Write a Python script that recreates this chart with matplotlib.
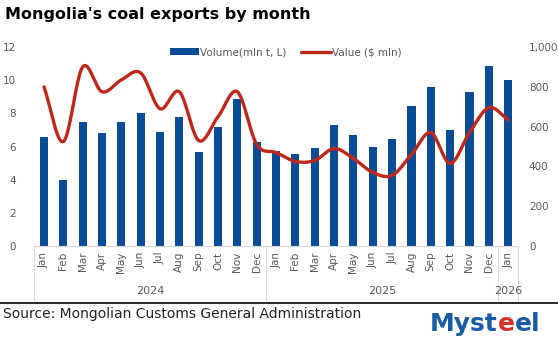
import numpy as np
import matplotlib.pyplot as plt
import matplotlib.transforms as mtransforms

months = ['Jan', 'Feb', 'Mar', 'Apr', 'May', 'Jun', 'Jul', 'Aug', 'Sep', 'Oct', 'Nov', 'Dec',
          'Jan', 'Feb', 'Mar', 'Apr', 'May', 'Jun', 'Jul', 'Aug', 'Sep', 'Oct', 'Nov', 'Dec',
          'Jan']
years = ['2024', '2025', '2026']
year_counts = [12, 12, 1]

# volume, mln t (left axis)
volume = [6.55, 4.0, 7.45, 6.8, 7.45, 8.0, 6.85, 7.8, 5.7, 7.2, 8.85, 6.3,
          5.75, 5.55, 5.9, 7.3, 6.7, 5.95, 6.45, 8.45, 9.6, 7.0, 9.3, 10.85,
          10.0]
# value, $ mln (right axis)
value = [800, 525, 900, 775, 835, 870, 690, 775, 530, 650, 775, 510,
         470, 425, 430, 490, 440, 370, 355, 460, 570, 415, 570, 695,
         635]

BLUE = '#0B4C97'
RED = '#C0271B'
GRAY = '#595959'


def smooth(xs, ys, n=24):
    # catmull-rom style smoothing, like excel's smoothed line
    xs = np.asarray(xs, float)
    ys = np.asarray(ys, float)
    px = np.concatenate([[2 * xs[0] - xs[1]], xs, [2 * xs[-1] - xs[-2]]])
    py = np.concatenate([[2 * ys[0] - ys[1]], ys, [2 * ys[-1] - ys[-2]]])
    ox, oy = [], []
    for i in range(1, len(px) - 2):
        t = np.linspace(0, 1, n, endpoint=False)
        for arr, out in ((px, ox), (py, oy)):
            p0, p1, p2, p3 = arr[i - 1], arr[i], arr[i + 1], arr[i + 2]
            out.extend(0.5 * (2 * p1 + (-p0 + p2) * t
                              + (2 * p0 - 5 * p1 + 4 * p2 - p3) * t ** 2
                              + (-p0 + 3 * p1 - 3 * p2 + p3) * t ** 3))
    ox.append(xs[-1])
    oy.append(ys[-1])
    return np.array(ox), np.array(oy)


fig = plt.figure(figsize=(5.58, 3.46), dpi=100)
ax = fig.add_axes([0.0615, 0.289, 0.8665, 0.575])
ax2 = ax.twinx()

x = np.arange(len(months))
ax.bar(x, volume, width=0.42, color=BLUE, label='Volume(mln t, L)', zorder=2)
sx, sy = smooth(x, value)
ax2.plot(sx, sy, color=RED, lw=2.4, label='Value ($ mln)', solid_capstyle='round')

ax.set_xlim(-0.5, len(months) - 0.5)
ax.set_ylim(0, 12)
ax2.set_ylim(0, 1000)
ax.set_yticks(range(0, 13, 2))
ax2.set_yticks(range(0, 1001, 200))
ax2.set_yticklabels([f'{v:,}' for v in range(0, 1001, 200)])
ax.set_xticks(x)
ax.set_xticklabels(months, rotation=90)

for a in (ax, ax2):
    for s in a.spines.values():
        s.set_visible(False)
    a.tick_params(length=0, labelsize=7.5, colors=GRAY)
ax.spines['bottom'].set_visible(True)
ax.spines['bottom'].set_color('#D9D9D9')
ax.tick_params(axis='y', pad=13)
ax2.tick_params(axis='y', pad=8)
ax.tick_params(axis='x', pad=4)

# multi-level category axis
trans = mtransforms.blended_transform_factory(ax.transData, ax.transAxes)
start = 0
bounds = [-0.5]
for yr, cnt in zip(years, year_counts):
    end = start + cnt
    bounds.append(end - 0.5)
    ax.text((start + end - 1) / 2, -0.228, yr, transform=trans, ha='center', va='center',
            fontsize=8, color=GRAY)
    start = end
for b in bounds:
    ax.plot([b, b], [0, -0.275], transform=trans, color='#D9D9D9', lw=0.8, clip_on=False)

h1, l1 = ax.get_legend_handles_labels()
h2, l2 = ax2.get_legend_handles_labels()
ax.legend(h1 + h2, l1 + l2, loc='upper center', bbox_to_anchor=(0.52, 1.045), ncol=2,
          frameon=False, fontsize=7.5, labelcolor=GRAY, handlelength=2.8,
          handletextpad=0.1, columnspacing=1.4)

fig.text(0.009, 0.958, "Mongolia's coal exports by month", fontsize=11.5, fontweight='bold',
         ha='left', va='center', color='black')

fig.add_artist(plt.Line2D([0, 1], [0.124, 0.124], color='black', lw=1.2))
fig.text(0.006, 0.093, 'Source: Mongolian Customs General Administration', fontsize=10,
         ha='left', va='center', color='#222222')

# logo text
t = fig.text(0.77, 0.065, 'Myst', fontsize=18, fontweight='bold', color='#1A5BA6',
             ha='left', va='center')
fig.canvas.draw()
bb = t.get_window_extent().transformed(fig.transFigure.inverted())
t2 = fig.text(bb.x1, 0.065, 'e', fontsize=18, fontweight='bold', color='#D2312A',
              ha='left', va='center')
fig.canvas.draw()
bb2 = t2.get_window_extent().transformed(fig.transFigure.inverted())
fig.text(bb2.x1, 0.065, 'el', fontsize=18, fontweight='bold', color='#1A5BA6',
         ha='left', va='center')

fig.savefig('out.png', dpi=100)
